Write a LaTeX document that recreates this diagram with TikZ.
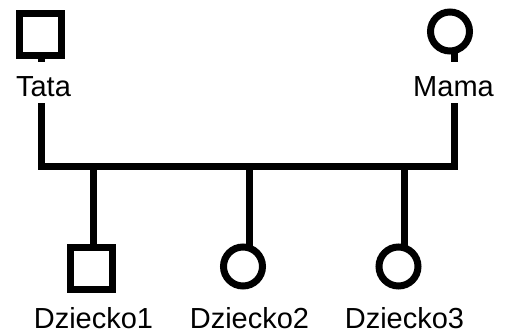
\documentclass[tikz,border=0pt]{standalone}
\usepackage{fontspec}
\setmainfont{Liberation Sans}
\begin{document}
\begin{tikzpicture}[x=1pt,y=-1pt,
  male/.style={draw, rectangle, line width=7pt, minimum size=42pt, inner sep=0pt, outer sep=0pt},
  female/.style={draw, circle, line width=7pt, minimum size=39pt, inner sep=0pt, outer sep=0pt},
  link/.style={line width=7pt},
  pname/.style={font=\fontsize{29}{30}\selectfont, inner sep=0pt, anchor=base},
  pcover/.style={pname, fill=white, text height=35pt, text depth=6pt}]
\useasboundingbox (0,0) rectangle (514,336);

% parents
\node[male]   (tata) at (40.5,35) {};
\node[female] (mama) at (450,31.5) {};

% children
\node[male]   (d1) at (91,269) {};
\node[female] (d2) at (243,266.5) {};
\node[female] (d3) at (398.5,266.5) {};

% level of the sibling bar
\coordinate (bar) at (0,166.5);

% marriage line joining both parents
\draw[link] ([xshift=0.5pt]tata.south) |- ([xshift=4pt]mama.south |- bar)
            -- ([xshift=4pt]mama.south);

% descent lines to each child
\draw[link] ([xshift=2.5pt]d1.north |- bar) -- ([xshift=2.5pt]d1.north);
\draw[link] ([xshift=6.5pt]d2.north |- bar) -- ([xshift=6.5pt]d2.north);
\draw[link] ([xshift=6pt]d3.north |- bar) -- ([xshift=6pt]d3.north);

% names
\node[pcover] (ltata) at (43.5,97) {Tata};
\node[pcover] (lmama) at (453.5,97) {Mama};
\node[pname] (ld1) at (93.5,329) {Dziecko1};
\node[pname] (ld2) at (249.5,329) {Dziecko2};
\node[pname] (ld3) at (404.5,329) {Dziecko3};
\end{tikzpicture}
\end{document}
